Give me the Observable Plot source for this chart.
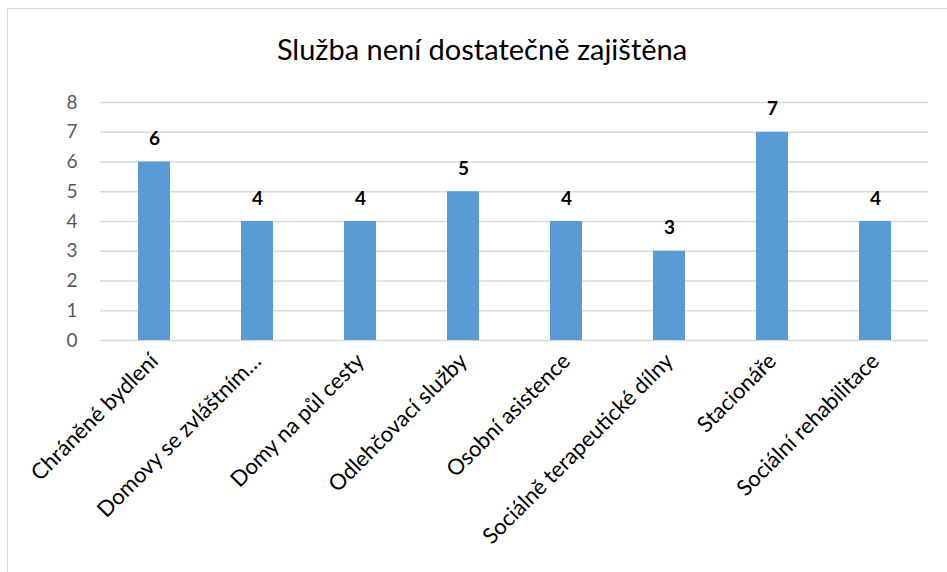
<!DOCTYPE html>
<html><head><meta charset="utf-8">
<script src="https://cdn.jsdelivr.net/npm/d3@7"></script>
<script src="https://cdn.jsdelivr.net/npm/@observablehq/plot@0.6"></script>
<style>
html,body{margin:0;padding:0;background:#fff;overflow:hidden;width:947px;height:572px;}
#frame{position:absolute;left:7px;top:8px;width:990px;height:620px;border:1.5px solid #d9d9d9;}
#title{position:absolute;left:0;top:31px;width:964px;text-align:center;font-family:Lato,sans-serif;font-size:29px;color:#000;}
#chart{position:absolute;left:0;top:90px;}
</style></head><body>
<div id="frame"></div>
<div id="title">Služba není dostatečně zajištěna</div>
<div id="chart"></div>
<script>
const categories = ["Chráněné bydlení", "Domovy se zvláštním…", "Domy na půl cesty", "Odlehčovací služby", "Osobní asistence", "Sociálně terapeutické dílny", "Stacionáře", "Sociální rehabilitace"];
const values = [6, 4, 4, 5, 4, 3, 7, 4];
const yTicks = [0, 1, 2, 3, 4, 5, 6, 7, 8];

const data = categories.map((c, i) => ({category: c, value: values[i]}));

const chart = Plot.plot({
  width: 947,
  height: 482,
  marginLeft: 100,
  marginRight: 19,
  marginTop: 12,
  marginBottom: 232,
  style: {fontFamily: "Lato, sans-serif", background: "transparent", overflow: "visible"},
  x: {domain: categories, paddingInner: 0.69, paddingOuter: 0.345, axis: null, label: null},
  y: {domain: [0, 8], axis: null, label: null},
  marks: [
    Plot.ruleY(yTicks, {stroke: "#d9d9d9", strokeWidth: 1.5}),
    Plot.barY(data, {x: "category", y: "value", fill: "#5b9bd5"}),
    Plot.text(data, {x: "category", y: "value", text: d => String(d.value), dy: -17, lineAnchor: "bottom", fontWeight: "bold", fontSize: 19, fill: "#000"}),
    Plot.axisY({ticks: yTicks, tickSize: 0, tickPadding: 23, fontSize: 19, fill: "#595959", label: null}),
    Plot.axisX({tickSize: 0, tickRotate: -45, tickPadding: 17, fontSize: 22, fill: "#000", label: null})
  ]
});
document.getElementById("chart").appendChild(chart);
</script>
</body></html>
